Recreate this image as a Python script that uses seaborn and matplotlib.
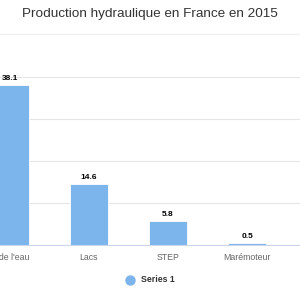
import matplotlib
matplotlib.use("Agg")
import matplotlib.pyplot as plt
import matplotlib.transforms as mtransforms
import seaborn as sns
import pandas as pd

categories = ["Cours de l'eau", "Lacs", "STEP", "Marémoteur"]
values = [38.1, 14.6, 5.8, 0.5]
series_name = "Series 1"

sns.set_style("white")
plt.rcParams['font.family'] = ['Liberation Sans', 'DejaVu Sans']

df = pd.DataFrame({"cat": categories, "val": values})

W = H = 300
fig = plt.figure(figsize=(3, 3), dpi=100)
left_px, right_px = -29.5, 300
top_px, bot_px = 77, 245
ax = fig.add_axes([left_px / W, 1 - bot_px / H, (right_px - left_px) / W, (bot_px - top_px) / H])

sns.barplot(data=df, x="cat", y="val", color="#7cb5ec", saturation=1, width=0.48,
            edgecolor="white", linewidth=0.6, ax=ax)

ax.set_ylim(0, 40)
ax.set_xlim(-0.5, 3.5 + 13.5 / 79)
ax.set_yticks([0, 10, 20, 30, 40])
ax.yaxis.grid(True, color="#e6e6e6", linewidth=0.8)
ax.set_axisbelow(True)
ax.tick_params(axis="y", left=False, labelleft=False)
ax.set_xlabel("")
ax.set_ylabel("")
for s in ["top", "right", "left"]:
    ax.spines[s].set_visible(False)
ax.spines["bottom"].set_color("#ccd6eb")
ax.spines["bottom"].set_linewidth(0.8)

ax.set_xticks(range(len(categories)))
ax.set_xticklabels(categories, color="#666666", fontsize=6.3)
ax.tick_params(axis="x", length=0, pad=5.5)
ax.set_xticks([0.5, 1.5, 2.5, 3.5], minor=True)
ax.tick_params(axis="x", which="minor", length=5.8, color="#ccd6eb", width=0.8)

# first label: right-aligned as in the reference (cropped at left edge)
first = ax.get_xticklabels()[0]
first.set_horizontalalignment("right")
first.set_transform(first.get_transform() + mtransforms.ScaledTranslation(19 / 100, 0, fig.dpi_scale_trans))

for p, v in zip(ax.patches, values):
    ax.annotate(f"{v}", (p.get_x() + p.get_width() / 2, p.get_height()),
                xytext=(0, 2), textcoords="offset points", ha="center", va="bottom",
                fontsize=6.0, fontweight="bold", color="#000000")

fig.text(0.5, 1 - 14 / H, "Production hydraulique en France en 2015", ha="center", va="center",
         fontsize=9.7, color="#333333")
fig.add_artist(plt.Line2D([0, 1], [1 - 33.5 / H, 1 - 33.5 / H], color="#f0f0f0", linewidth=1))

fig.add_artist(plt.Line2D([130 / W], [1 - 280 / H], marker="o", markersize=6.5, color="#7cb5ec", linestyle=""))
fig.text(141 / W, 1 - 280 / H, series_name, ha="left", va="center", fontsize=6.3,
         fontweight="bold", color="#333333")

fig.savefig("out.png", dpi=100, facecolor="white")
